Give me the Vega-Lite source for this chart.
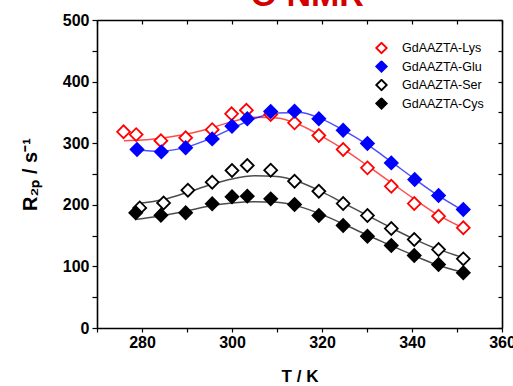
{
  "$schema": "https://vega.github.io/schema/vega-lite/v6.json",
  "autosize": "none",
  "width": 405,
  "height": 308,
  "padding": {"left": 97, "top": 20, "right": 11, "bottom": 58},
  "background": "white",
  "title": {"text": "¹⁷O NMR", "color": "#d40000", "fontSize": 34, "font": "Liberation Sans", "fontWeight": "bold", "baseline": "alphabetic", "offset": 0, "anchor": "middle", "dx": -5, "dy": 28},
  "config": {
    "view": {"stroke": null},
    "axis": {"grid": false, "labelFont": "Liberation Sans", "labelFontWeight": "bold", "labelFontSize": 16, "labelColor": "black", "tickColor": "black", "domainColor": "black", "domainWidth": 1.6, "tickWidth": 1.2, "titleFont": "Liberation Sans", "titleColor": "black"}
  },
  "datasets": {
    "pts": [
      {"series": "GdAAZTA-Lys", "T": 275.9, "R": 318.5},
      {"series": "GdAAZTA-Lys", "T": 278.7, "R": 314},
      {"series": "GdAAZTA-Lys", "T": 284.2, "R": 304},
      {"series": "GdAAZTA-Lys", "T": 289.7, "R": 308.8},
      {"series": "GdAAZTA-Lys", "T": 295.6, "R": 322},
      {"series": "GdAAZTA-Lys", "T": 299.9, "R": 347.7},
      {"series": "GdAAZTA-Lys", "T": 303.2, "R": 353.6},
      {"series": "GdAAZTA-Lys", "T": 308.6, "R": 346.6},
      {"series": "GdAAZTA-Lys", "T": 313.9, "R": 333},
      {"series": "GdAAZTA-Lys", "T": 319.3, "R": 312.5},
      {"series": "GdAAZTA-Lys", "T": 324.7, "R": 289.8},
      {"series": "GdAAZTA-Lys", "T": 330.1, "R": 260},
      {"series": "GdAAZTA-Lys", "T": 335.4, "R": 230},
      {"series": "GdAAZTA-Lys", "T": 340.5, "R": 202},
      {"series": "GdAAZTA-Lys", "T": 345.9, "R": 181.5},
      {"series": "GdAAZTA-Lys", "T": 351.4, "R": 162.7},
      {"series": "GdAAZTA-Glu", "T": 278.9, "R": 289.8},
      {"series": "GdAAZTA-Glu", "T": 284.3, "R": 286},
      {"series": "GdAAZTA-Glu", "T": 289.7, "R": 292.5},
      {"series": "GdAAZTA-Glu", "T": 295.6, "R": 307},
      {"series": "GdAAZTA-Glu", "T": 300.0, "R": 327.6},
      {"series": "GdAAZTA-Glu", "T": 303.4, "R": 339.6},
      {"series": "GdAAZTA-Glu", "T": 308.6, "R": 351.5},
      {"series": "GdAAZTA-Glu", "T": 313.9, "R": 352},
      {"series": "GdAAZTA-Glu", "T": 319.3, "R": 339.6},
      {"series": "GdAAZTA-Glu", "T": 324.7, "R": 321},
      {"series": "GdAAZTA-Glu", "T": 330.1, "R": 299.5},
      {"series": "GdAAZTA-Glu", "T": 335.4, "R": 268},
      {"series": "GdAAZTA-Glu", "T": 340.6, "R": 241},
      {"series": "GdAAZTA-Glu", "T": 345.9, "R": 215},
      {"series": "GdAAZTA-Glu", "T": 351.4, "R": 192.4},
      {"series": "GdAAZTA-Ser", "T": 279.5, "R": 195},
      {"series": "GdAAZTA-Ser", "T": 284.8, "R": 203},
      {"series": "GdAAZTA-Ser", "T": 290.2, "R": 223.7},
      {"series": "GdAAZTA-Ser", "T": 295.6, "R": 236.7},
      {"series": "GdAAZTA-Ser", "T": 300.0, "R": 255.7},
      {"series": "GdAAZTA-Ser", "T": 303.4, "R": 263.8},
      {"series": "GdAAZTA-Ser", "T": 308.6, "R": 256.2},
      {"series": "GdAAZTA-Ser", "T": 313.9, "R": 238.3},
      {"series": "GdAAZTA-Ser", "T": 319.3, "R": 222},
      {"series": "GdAAZTA-Ser", "T": 324.7, "R": 202},
      {"series": "GdAAZTA-Ser", "T": 330.1, "R": 182.6},
      {"series": "GdAAZTA-Ser", "T": 335.4, "R": 161.5},
      {"series": "GdAAZTA-Ser", "T": 340.5, "R": 143.7},
      {"series": "GdAAZTA-Ser", "T": 345.9, "R": 127.4},
      {"series": "GdAAZTA-Ser", "T": 351.4, "R": 112.3},
      {"series": "GdAAZTA-Cys", "T": 278.6, "R": 187},
      {"series": "GdAAZTA-Cys", "T": 284.2, "R": 183},
      {"series": "GdAAZTA-Cys", "T": 289.7, "R": 187},
      {"series": "GdAAZTA-Cys", "T": 295.6, "R": 201.6},
      {"series": "GdAAZTA-Cys", "T": 300.0, "R": 213},
      {"series": "GdAAZTA-Cys", "T": 303.4, "R": 214},
      {"series": "GdAAZTA-Cys", "T": 308.6, "R": 209.7},
      {"series": "GdAAZTA-Cys", "T": 313.9, "R": 200.5},
      {"series": "GdAAZTA-Cys", "T": 319.3, "R": 182.6},
      {"series": "GdAAZTA-Cys", "T": 324.7, "R": 166.4},
      {"series": "GdAAZTA-Cys", "T": 330.1, "R": 149},
      {"series": "GdAAZTA-Cys", "T": 335.4, "R": 134},
      {"series": "GdAAZTA-Cys", "T": 340.5, "R": 117.7},
      {"series": "GdAAZTA-Cys", "T": 345.9, "R": 103},
      {"series": "GdAAZTA-Cys", "T": 351.4, "R": 89.6}
    ],
    "fit": [
      {"series": "GdAAZTA-Lys", "T": 276, "R": 304},
      {"series": "GdAAZTA-Lys", "T": 280, "R": 305},
      {"series": "GdAAZTA-Lys", "T": 285, "R": 309},
      {"series": "GdAAZTA-Lys", "T": 290, "R": 315},
      {"series": "GdAAZTA-Lys", "T": 295, "R": 324},
      {"series": "GdAAZTA-Lys", "T": 300, "R": 335},
      {"series": "GdAAZTA-Lys", "T": 305, "R": 342},
      {"series": "GdAAZTA-Lys", "T": 310, "R": 341},
      {"series": "GdAAZTA-Lys", "T": 315, "R": 330},
      {"series": "GdAAZTA-Lys", "T": 320, "R": 311},
      {"series": "GdAAZTA-Lys", "T": 325, "R": 289},
      {"series": "GdAAZTA-Lys", "T": 330, "R": 264},
      {"series": "GdAAZTA-Lys", "T": 335, "R": 238},
      {"series": "GdAAZTA-Lys", "T": 340, "R": 212},
      {"series": "GdAAZTA-Lys", "T": 345, "R": 187},
      {"series": "GdAAZTA-Lys", "T": 351.5, "R": 162},
      {"series": "GdAAZTA-Glu", "T": 279, "R": 289},
      {"series": "GdAAZTA-Glu", "T": 284, "R": 287},
      {"series": "GdAAZTA-Glu", "T": 290, "R": 294},
      {"series": "GdAAZTA-Glu", "T": 295, "R": 307},
      {"series": "GdAAZTA-Glu", "T": 300, "R": 324},
      {"series": "GdAAZTA-Glu", "T": 305, "R": 340},
      {"series": "GdAAZTA-Glu", "T": 310, "R": 349},
      {"series": "GdAAZTA-Glu", "T": 315, "R": 350},
      {"series": "GdAAZTA-Glu", "T": 320, "R": 339},
      {"series": "GdAAZTA-Glu", "T": 325, "R": 320},
      {"series": "GdAAZTA-Glu", "T": 330, "R": 298},
      {"series": "GdAAZTA-Glu", "T": 335, "R": 272},
      {"series": "GdAAZTA-Glu", "T": 340, "R": 245},
      {"series": "GdAAZTA-Glu", "T": 345, "R": 219},
      {"series": "GdAAZTA-Glu", "T": 351.5, "R": 190},
      {"series": "GdAAZTA-Ser", "T": 279, "R": 202},
      {"series": "GdAAZTA-Ser", "T": 285, "R": 209},
      {"series": "GdAAZTA-Ser", "T": 290, "R": 220},
      {"series": "GdAAZTA-Ser", "T": 295, "R": 232},
      {"series": "GdAAZTA-Ser", "T": 300, "R": 242},
      {"series": "GdAAZTA-Ser", "T": 305, "R": 247},
      {"series": "GdAAZTA-Ser", "T": 310, "R": 246},
      {"series": "GdAAZTA-Ser", "T": 315, "R": 237},
      {"series": "GdAAZTA-Ser", "T": 320, "R": 221},
      {"series": "GdAAZTA-Ser", "T": 325, "R": 202},
      {"series": "GdAAZTA-Ser", "T": 330, "R": 183},
      {"series": "GdAAZTA-Ser", "T": 335, "R": 164},
      {"series": "GdAAZTA-Ser", "T": 340, "R": 146},
      {"series": "GdAAZTA-Ser", "T": 345, "R": 130},
      {"series": "GdAAZTA-Ser", "T": 351.5, "R": 114},
      {"series": "GdAAZTA-Cys", "T": 278.5, "R": 176},
      {"series": "GdAAZTA-Cys", "T": 284, "R": 182},
      {"series": "GdAAZTA-Cys", "T": 290, "R": 190},
      {"series": "GdAAZTA-Cys", "T": 295, "R": 198},
      {"series": "GdAAZTA-Cys", "T": 300, "R": 203},
      {"series": "GdAAZTA-Cys", "T": 305, "R": 205},
      {"series": "GdAAZTA-Cys", "T": 310, "R": 204},
      {"series": "GdAAZTA-Cys", "T": 315, "R": 197},
      {"series": "GdAAZTA-Cys", "T": 320, "R": 184},
      {"series": "GdAAZTA-Cys", "T": 325, "R": 168},
      {"series": "GdAAZTA-Cys", "T": 330, "R": 151},
      {"series": "GdAAZTA-Cys", "T": 335, "R": 135},
      {"series": "GdAAZTA-Cys", "T": 340, "R": 119},
      {"series": "GdAAZTA-Cys", "T": 345, "R": 104},
      {"series": "GdAAZTA-Cys", "T": 351.5, "R": 90}
    ]
  },
  "layer": [
    {
      "data": {"name": "fit"},
      "mark": {"type": "line", "interpolate": "monotone", "strokeWidth": 1.5, "strokeOpacity": 0.7},
      "encoding": {
        "x": {"field": "T", "type": "quantitative", "scale": {"domain": [270, 360], "nice": false, "zero": false},
          "axis": {"orient": "bottom", "values": [270, 280, 290, 300, 310, 320, 330, 340, 350, 360], "labelExpr": "datum.value % 20 == 0 ? datum.label : ''", "tickSize": 4, "labelPadding": 2, "labelFlush": false, "labelOverlap": false, "title": "T / K", "titleFontSize": 17, "titleFontWeight": "bold", "titlePadding": 18}},
        "y": {"field": "R", "type": "quantitative", "scale": {"domain": [0, 500], "nice": false, "zero": true},
          "axis": {"orient": "left", "values": [0, 50, 100, 150, 200, 250, 300, 350, 400, 450, 500], "labelExpr": "datum.value % 100 == 0 ? datum.label : ''", "tickSize": 5, "labelPadding": 3, "labelFlush": false, "labelOverlap": false, "title": "R₂ₚ / s⁻¹", "titleFontSize": 20, "titleFontWeight": "bold", "titlePadding": 22}},
        "stroke": {"field": "series", "type": "nominal", "scale": {"domain": ["GdAAZTA-Lys", "GdAAZTA-Glu", "GdAAZTA-Ser", "GdAAZTA-Cys"], "range": ["#ff0000", "#0000ff", "#000000", "#000000"]}, "legend": null},
        "detail": {"field": "series"}
      }
    },
    {
      "data": {"name": "pts"},
      "mark": {"type": "point", "shape": "diamond", "filled": true, "size": 165, "strokeWidth": 1.8, "opacity": 1},
      "encoding": {
        "x": {"field": "T", "type": "quantitative", "axis": {"orient": "top", "values": [270, 280, 290, 300, 310, 320, 330, 340, 350, 360], "labels": false, "tickSize": -4, "title": null}},
        "y": {"field": "R", "type": "quantitative", "axis": {"orient": "right", "values": [0, 50, 100, 150, 200, 250, 300, 350, 400, 450, 500], "labels": false, "tickSize": -4, "title": null}},
        "stroke": {"field": "series", "type": "nominal",
          "legend": {"orient": "none", "legendX": 278, "legendY": 22, "title": null, "padding": 0, "symbolType": "diamond", "symbolSize": 110, "symbolStrokeWidth": 1.8, "labelFont": "Liberation Sans", "labelFontSize": 12.5, "labelColor": "black", "labelOffset": 14, "rowPadding": 5.5, "clipHeight": 12}},
        "fill": {"field": "series", "type": "nominal", "scale": {"domain": ["GdAAZTA-Lys", "GdAAZTA-Glu", "GdAAZTA-Ser", "GdAAZTA-Cys"], "range": ["#ffffff", "#0000ff", "#ffffff", "#000000"]},
          "legend": {"orient": "none", "legendX": 278, "legendY": 22, "title": null, "padding": 0, "symbolType": "diamond", "symbolSize": 110, "symbolStrokeWidth": 1.8, "labelFont": "Liberation Sans", "labelFontSize": 12.5, "labelColor": "black", "labelOffset": 14, "rowPadding": 5.5, "clipHeight": 12}}
      }
    }
  ],
  "resolve": {"axis": {"x": "independent", "y": "independent"}, "legend": {"stroke": "independent", "fill": "independent"}}
}
